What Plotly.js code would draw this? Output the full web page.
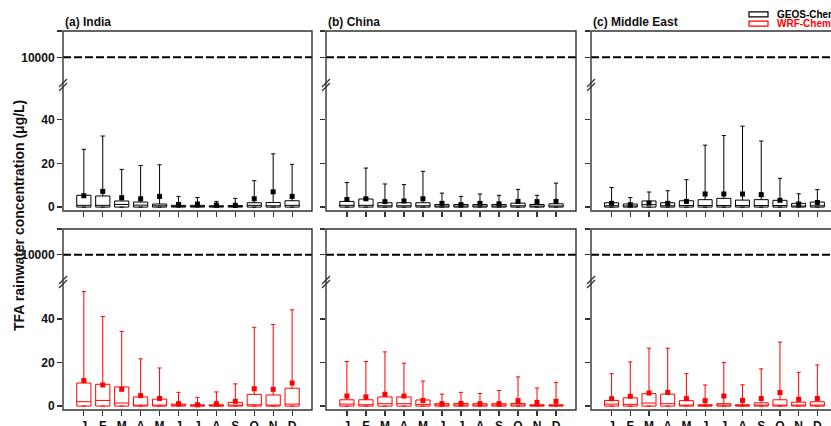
<!DOCTYPE html>
<html>
<head>
<meta charset="utf-8">
<script src="https://cdn.plot.ly/plotly-3.0.1.min.js"></script>
<style>
  html, body { margin: 0; padding: 0; overflow: hidden; background: #fff; }
  #chart { width: 845px; height: 440px; }
</style>
</head>
<body>
<div id="chart"></div>
<script>
// Monthly TFA rainwater concentration (µg/L): box = 0 .. Q3 with median, whisker to upper bound, square = mean
const MONTHS = ['J', 'F', 'M', 'A', 'M', 'J', 'J', 'A', 'S', 'O', 'N', 'D'];
const MONTH_POS = [1, 2, 3, 4, 5, 6, 7, 8, 9, 10, 11, 12];
const REGIONS = ['(a) India', '(b) China', '(c) Middle East'];
const MODELS = ['GEOS-Chem', 'WRF-Chem'];
const THRESHOLD = 10000;
const LOWER_Q = [0, 0, 0, 0, 0, 0, 0, 0, 0, 0, 0, 0];

// GEOS-Chem
const geosIndiaQ3     = [5.4, 5.1, 2.8, 2.3, 1.4, 0.8, 0.8, 0.6, 0.7, 2.0, 2.1, 2.9];
const geosIndiaMedian = [0.8, 0.8, 1.2, 0.9, 0.6, 0.3, 0.3, 0.3, 0.3, 0.8, 0.6, 0.8];
const geosIndiaMean   = [5.2, 7.2, 4.3, 3.8, 4.9, 1.2, 1.4, 0.9, 0.8, 3.8, 7.0, 4.9];
const geosIndiaUpper  = [26.5, 32.6, 17.3, 19.1, 19.4, 4.9, 4.4, 2.6, 4.0, 12.1, 24.4, 19.6];

const geosChinaQ3     = [2.6, 3.7, 2.0, 2.0, 2.0, 1.2, 1.2, 1.2, 1.2, 1.8, 1.2, 1.5];
const geosChinaMedian = [0.8, 0.8, 0.6, 0.6, 0.6, 0.4, 0.4, 0.4, 0.4, 0.6, 0.4, 0.5];
const geosChinaMean   = [3.5, 3.8, 2.5, 2.8, 3.8, 1.7, 1.1, 1.7, 1.5, 2.6, 2.5, 2.6];
const geosChinaUpper  = [11.3, 17.9, 10.6, 10.3, 16.4, 6.4, 4.9, 6.0, 5.4, 8.1, 5.4, 11.0];

const geosMEQ3        = [2.0, 1.4, 2.8, 2.0, 2.9, 3.4, 4.0, 3.2, 3.4, 3.1, 1.7, 2.3];
const geosMEMedian    = [0.6, 0.5, 1.1, 0.6, 0.7, 0.7, 0.7, 0.7, 0.7, 0.7, 0.5, 0.6];
const geosMEMean      = [1.7, 1.1, 1.8, 1.7, 2.6, 6.0, 6.0, 6.0, 5.7, 3.1, 1.4, 2.1];
const geosMEUpper     = [9.0, 4.4, 6.9, 7.5, 12.6, 28.4, 32.8, 37.1, 30.3, 13.2, 6.1, 8.0];

// WRF-Chem
const wrfIndiaQ3      = [10.6, 10.0, 8.8, 4.2, 3.2, 0.9, 0.6, 0.6, 1.7, 5.4, 5.1, 8.2];
const wrfIndiaMedian  = [2.0, 2.6, 1.4, 0.2, 0.2, 0.2, 0.1, 0.1, 0.2, 0.6, 0.2, 0.9];
const wrfIndiaMean    = [11.7, 9.7, 7.7, 4.8, 3.5, 1.1, 0.6, 1.1, 2.2, 8.0, 7.7, 10.6];
const wrfIndiaUpper   = [52.6, 41.1, 34.3, 21.7, 17.5, 6.3, 4.0, 6.5, 10.2, 36.2, 37.5, 44.2];

const wrfChinaQ3      = [2.9, 2.9, 4.2, 4.2, 2.8, 1.1, 1.2, 1.1, 1.1, 1.2, 0.6, 0.6];
const wrfChinaMedian  = [0.9, 0.6, 1.1, 1.1, 0.8, 0.3, 0.3, 0.3, 0.3, 0.5, 0.2, 0.2];
const wrfChinaMean    = [4.6, 4.2, 5.4, 4.6, 2.6, 1.1, 1.2, 1.1, 1.1, 2.5, 1.7, 2.2];
const wrfChinaUpper   = [20.5, 20.5, 24.9, 19.7, 11.5, 5.5, 6.3, 5.8, 7.2, 13.4, 8.3, 10.9];

const wrfMEQ3         = [2.6, 3.8, 5.7, 5.5, 2.5, 0.6, 1.1, 0.6, 1.5, 2.9, 1.8, 2.0];
const wrfMEMedian     = [0.9, 0.8, 1.4, 1.1, 0.3, 0.2, 0.3, 0.2, 0.4, 0.4, 0.4, 0.4];
const wrfMEMean       = [3.4, 4.5, 6.0, 6.3, 3.4, 2.5, 4.6, 2.6, 3.5, 6.2, 3.1, 3.5];
const wrfMEUpper      = [14.9, 20.3, 26.6, 26.6, 14.9, 9.7, 20.0, 9.8, 17.1, 29.4, 15.5, 18.9];

const SERIES = [
  [
    { q3: geosIndiaQ3, median: geosIndiaMedian, mean: geosIndiaMean, upper: geosIndiaUpper },
    { q3: geosChinaQ3, median: geosChinaMedian, mean: geosChinaMean, upper: geosChinaUpper },
    { q3: geosMEQ3,    median: geosMEMedian,    mean: geosMEMean,    upper: geosMEUpper }
  ],
  [
    { q3: wrfIndiaQ3, median: wrfIndiaMedian, mean: wrfIndiaMean, upper: wrfIndiaUpper },
    { q3: wrfChinaQ3, median: wrfChinaMedian, mean: wrfChinaMean, upper: wrfChinaUpper },
    { q3: wrfMEQ3,    median: wrfMEMedian,    mean: wrfMEMean,    upper: wrfMEUpper }
  ]
];

// ---- layout geometry (pixels) ----
const FIG_W = 845, FIG_H = 440, M_B = 30;
const PH = FIG_H - M_B;
const px2x = v => v / FIG_W;
const px2y = v => (PH - v) / PH;

const COLS = [[63, 312], [326, 576], [591, 837]];
const ROWS = [
  { top: 31,  brk: 85,  bottom: 211, low: [-1.8, 56] },
  { top: 229, brk: 282, bottom: 410, low: [-1.8, 57] }
];
const UPPER_RANGE = [8000, 11900];
const MODEL_COLORS = ['#000000', '#ff0000'];
const FRAME = '#333333';
const FONT = 'Liberation Sans, Arial, Helvetica, sans-serif';

const data = [];
const layout = {
  width: FIG_W, height: FIG_H,
  margin: { l: 0, r: 0, t: 0, b: M_B, pad: 0 },
  paper_bgcolor: '#fff', plot_bgcolor: 'rgba(0,0,0,0)',
  showlegend: false,
  font: { family: FONT, size: 12, color: '#111' },
  shapes: [], annotations: []
};

for (let r = 0; r < 2; r++) {
  const row = ROWS[r];
  for (let c = 0; c < 3; c++) {
    const p = r * 3 + c;
    const xi = p + 1, yl = 2 * p + 1, yu = 2 * p + 2;
    const xid = xi === 1 ? 'x' : 'x' + xi;
    const ylid = yl === 1 ? 'y' : 'y' + yl;
    const yuid = 'y' + yu;
    const xDom = [px2x(COLS[c][0]), px2x(COLS[c][1])];
    const lowDom = [px2y(row.bottom), px2y(row.brk)];
    const upDom = [px2y(row.brk), px2y(row.top)];

    layout['xaxis' + (xi === 1 ? '' : xi)] = {
      domain: xDom, anchor: ylid, range: [-0.1, 13.05],
      tickmode: 'array', tickvals: MONTH_POS, ticktext: MONTHS,
      showticklabels: r === 1, ticks: 'outside', ticklen: 5, tickwidth: 1.2, tickcolor: FRAME,
      tickfont: { family: FONT, size: 12, weight: 'bold', color: '#111' },
      showline: false, showgrid: false, zeroline: false, automargin: false, fixedrange: true
    };
    layout['yaxis' + (yl === 1 ? '' : yl)] = {
      domain: lowDom, anchor: xid, range: row.low,
      tickmode: 'array', tickvals: [0, 20, 40], ticktext: ['0', '20', '40'],
      showticklabels: c === 0, ticks: 'outside', ticklen: 5, tickwidth: 1.2, tickcolor: FRAME,
      tickfont: { family: FONT, size: 12, weight: 'bold', color: '#111' },
      showline: false, showgrid: false, zeroline: false, automargin: false, fixedrange: true
    };
    layout['yaxis' + yu] = {
      domain: upDom, anchor: xid, range: UPPER_RANGE,
      tickmode: 'array', tickvals: [THRESHOLD, UPPER_RANGE[1]], ticktext: [String(THRESHOLD), ''],
      showticklabels: c === 0, ticks: 'outside', ticklen: 5, tickwidth: 1.2, tickcolor: FRAME,
      tickfont: { family: FONT, size: 12, weight: 'bold', color: '#111' },
      showline: false, showgrid: false, zeroline: false, automargin: false, fixedrange: true
    };

    const s = SERIES[r][c];
    const col = MODEL_COLORS[r];
    data.push({
      type: 'box', name: MODELS[r], xaxis: xid, yaxis: ylid,
      x: MONTH_POS, q1: LOWER_Q, lowerfence: LOWER_Q,
      median: s.median, q3: s.q3, upperfence: s.upper,
      width: 0.75, whiskerwidth: 0.3, boxpoints: false,
      fillcolor: '#ffffff', line: { color: col, width: 1 },
      hoverinfo: 'skip', showlegend: false
    });
    data.push({
      type: 'scatter', mode: 'markers', name: MODELS[r] + ' mean', xaxis: xid, yaxis: ylid,
      x: MONTH_POS, y: s.mean,
      marker: { symbol: 'square', size: 5, color: col },
      hoverinfo: 'skip', showlegend: false, cliponaxis: false
    });

    // threshold line in the upper (broken) segment
    layout.shapes.push({
      type: 'line', xref: xid + ' domain', yref: yuid, x0: 0, x1: 1, y0: THRESHOLD, y1: THRESHOLD,
      line: { color: '#000', width: 2, dash: '8px,3px' }
    });
    // panel frame
    layout.shapes.push({
      type: 'rect', xref: 'paper', yref: 'paper',
      x0: xDom[0], x1: xDom[1], y0: lowDom[0], y1: upDom[1],
      line: { color: FRAME, width: 1.4 }, fillcolor: 'rgba(0,0,0,0)'
    });
    // axis break marks
    const bx = COLS[c][0], by = row.brk;
    [-2, 2].forEach(d => {
      layout.shapes.push({
        type: 'line', xref: 'paper', yref: 'paper',
        x0: px2x(bx - 4), y0: px2y(by + 4 + d), x1: px2x(bx + 4), y1: px2y(by - 4 + d),
        line: { color: FRAME, width: 1.2 }
      });
    });

    if (r === 0) {
      layout.annotations.push({
        text: REGIONS[c], xref: 'paper', yref: 'paper',
        x: px2x(COLS[c][0]), y: px2y(21.5), xanchor: 'left', yanchor: 'middle',
        showarrow: false, font: { family: FONT, size: 12, weight: 'bold', color: '#111' }
      });
    }
  }
}

// model key
[[14.3, 0], [23.7, 1]].forEach(([yc, m]) => {
  layout.shapes.push({
    type: 'rect', xref: 'paper', yref: 'paper',
    x0: px2x(749), x1: px2x(768), y0: px2y(yc + 2.5), y1: px2y(yc - 2.5),
    line: { color: MODEL_COLORS[m], width: 1.2 }, fillcolor: '#fff'
  });
  layout.annotations.push({
    text: MODELS[m], xref: 'paper', yref: 'paper',
    x: px2x(775), y: px2y(yc), xanchor: 'left', yanchor: 'middle',
    showarrow: false, font: { family: FONT, size: 10, weight: 'bold', color: MODEL_COLORS[m] }
  });
});

// shared y-axis title
layout.annotations.push({
  text: 'TFA rainwater concentration (μg/L)', xref: 'paper', yref: 'paper',
  x: px2x(18.5), y: px2y(215.5), xanchor: 'center', yanchor: 'middle', textangle: -90,
  showarrow: false, font: { family: FONT, size: 14, weight: 'bold', color: '#111' }
});

Plotly.newPlot('chart', data, layout, { displayModeBar: false, staticPlot: true });
</script>
</body>
</html>
